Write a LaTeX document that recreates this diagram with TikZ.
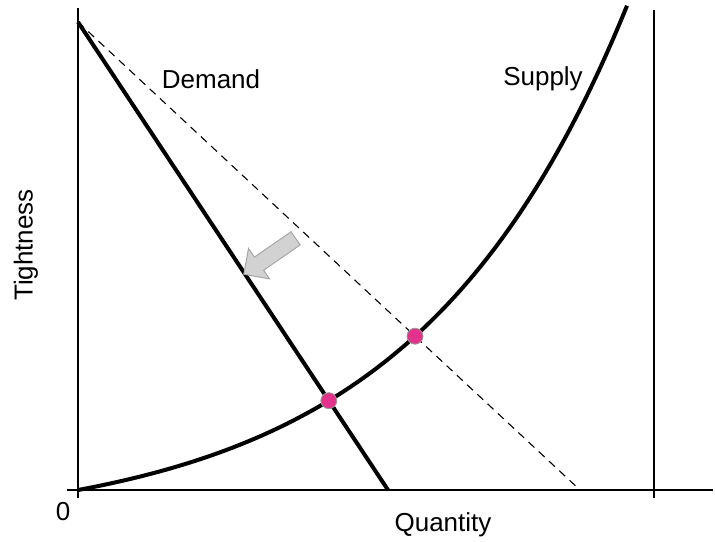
\documentclass[tikz,border=0pt]{standalone}
\usepackage{fontspec}
\setmainfont{Liberation Sans}
\usetikzlibrary{positioning,intersections,shapes.arrows}
\definecolor{dotpink}{RGB}{226,50,140}

\begin{document}
\begin{tikzpicture}[x=1pt,y=-1pt, lbl/.style={font=\fontsize{26}{30}\selectfont,inner sep=0pt},
  axis/.style={line width=1.4pt}, curve/.style={line width=4pt},
  eqdot/.style={circle,fill=dotpink,draw=gray!80,line width=0.8pt,minimum size=16pt,inner sep=0pt}]
\useasboundingbox (0,0) rectangle (715,541);
% axes
\coordinate (o) at (78,490);
\draw[axis] (78,8) -- (78,498);
\draw[axis] (67,490) -- (713,490);
\draw[axis] (654,10) -- (654,498);
% demand, old and new
\coordinate (dtop) at (78,22);
\coordinate (dold) at (580,490);
\coordinate (dnew) at (388,490);
\draw[name path=olddemand,line width=1.1pt,dash pattern=on 8pt off 6pt] (dtop) -- (dold);
\draw[name path=demand,curve] (dtop) -- (dnew);
% supply
\draw[name path=supply,curve] plot[domain=0:549,samples=80,smooth] ({78+\x},{490-39.7*(exp(0.0047*\x)-1)});
% equilibria
\path[name intersections={of=supply and demand,by=eqnew}];
\path[name intersections={of=supply and olddemand,by=eqold}];
\node[eqdot] (pnew) at (eqnew) {};
\node[eqdot] (pold) at (eqold) {};
% shift of demand
\node[single arrow,draw=gray!70,fill=gray!35,line width=1pt,inner sep=0pt,minimum height=63pt,minimum width=36pt,single arrow head extend=10.5pt,text height=15pt,text depth=0pt,rotate=214.7] (shift) at (273,254) {};
% labels
\node[lbl] (dlab) at (211,79) {Demand};
\node[lbl] (slab) at (543,79) {Supply};
\node[lbl,rotate=90] (ylab) at (26,245) {Tightness};
\node[lbl] (xlab) at (443,525) {Quantity};
\node[lbl] (zero) at (63,512) {0};
\end{tikzpicture}
\end{document}
